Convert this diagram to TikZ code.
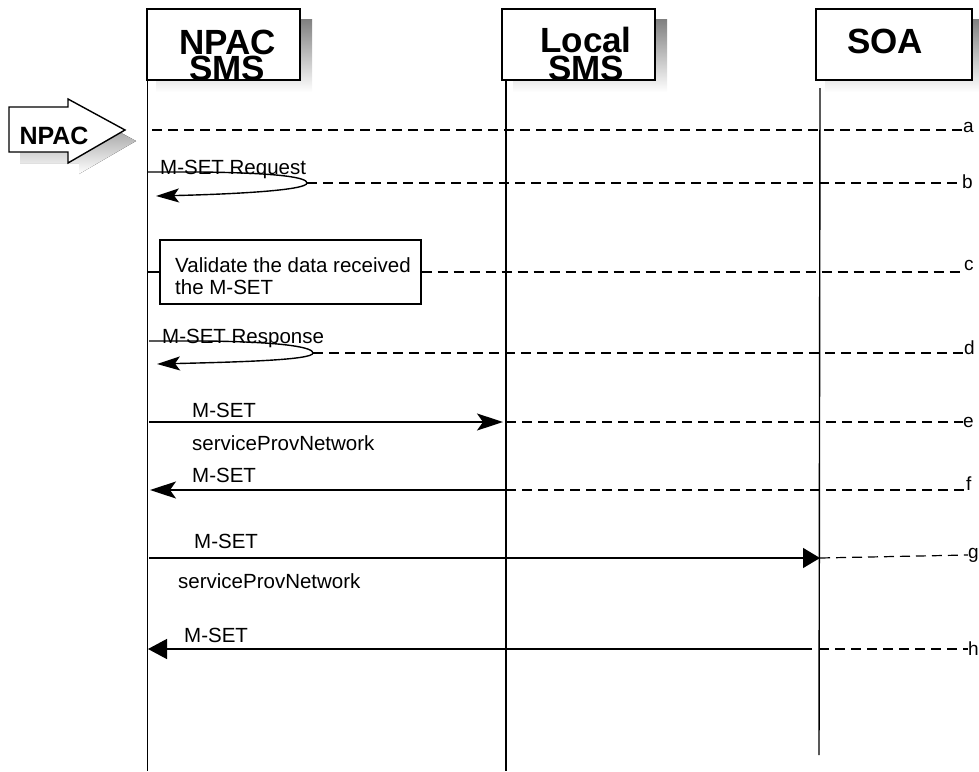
\documentclass[tikz,border=0pt]{standalone}
\usepackage{fontspec}
\setmainfont{Liberation Sans}
\usetikzlibrary{arrows.meta}
\definecolor{shade}{RGB}{118,118,118}
\begin{document}
\begin{tikzpicture}[x=1pt,y=-1pt,
  head/.style={draw,line width=1.4pt,fill=white,minimum width=153pt,minimum height=71pt,inner sep=0},
  hd/.style={font=\bfseries\fontsize{35}{25}\selectfont,inner sep=0,text height=23pt,text depth=0pt},
  life/.style={line width=1.4pt},
  dsh/.style={line width=1.2pt,dash pattern=on 10pt off 6pt},
  msg/.style={line width=1.4pt},
  lbl/.style={font=\fontsize{20.5}{22}\selectfont,inner sep=0},
  tag/.style={font=\fontsize{19}{20}\selectfont,inner sep=0,anchor=base west},
  bigstealth/.style={-{Stealth[length=26pt,width=17pt,inset=6pt]}},
  loopstealth/.style={-{Stealth[length=23pt,width=14pt,inset=5pt]}},
  tri/.style={-{Triangle[length=17pt,width=20pt]}},
  ]
\useasboundingbox (0,0) rectangle (979,771);
% header shadows
\fill[shade] (156,19) rectangle (312,92);
\fill[shade] (513,19) rectangle (667,92);
\fill[shade] (825,19) rectangle (979,92);
% header boxes
\node[head] (npac) at (223.5,44.5) {};
\node[head] (lsms) at (578.5,44.5) {};
\node[head,minimum width=156pt] (soa) at (894,44.5) {};
\node[hd,anchor=base] (npacT1) at (227.5,54) {NPAC};
\node[hd,anchor=base] (npacT2) at (227,80) {SMS};
\node[hd,anchor=base] (lsmsT1) at (586,52) {Local};
\node[hd,anchor=base] (lsmsT2) at (586,80) {SMS};
\node[hd,anchor=base] (soaT) at (885,53) {SOA};
% lifelines
\coordinate (npacTop) at (147.5,80);
\coordinate (npacBot) at (147.5,771);
\coordinate (lsmsTop) at (506,80);
\coordinate (lsmsBot) at (506,771);
\coordinate (soaTop) at (820,88);
\coordinate (soaBot) at (819,755);
\draw[life] (npacTop) -- (npacBot);
\draw[life] (lsmsTop) -- (lsmsBot);
\draw[life] (soaTop) -- (soaBot);
% NPAC block arrow
\fill[shade,shift={(11,11)}] (9,107) -- (68,107) -- (68,99) -- (125,130) -- (68,163) -- (68,152) -- (9,152) -- cycle;
\draw[line width=1.4pt,fill=white] (9,107) -- (68,107) -- (68,99) -- (125,130) -- (68,163) -- (68,152) -- (9,152) -- cycle;
\node[font=\bfseries\fontsize{25}{25}\selectfont,inner sep=0,anchor=base] (src) at (54,144) {NPAC};
% right tags
\node[tag] (tA) at (963,132) {a};
\node[tag] (tB) at (962,188) {b};
\node[tag] (tC) at (964,270) {c};
\node[tag] (tD) at (964,354) {d};
\node[tag] (tE) at (963,427) {e};
\node[tag] (tF) at (966,490) {f};
\node[tag] (tG) at (968,558) {g};
\node[tag] (tH) at (968,655) {h};
% a
\coordinate (aS) at (152,130);
\draw[dsh] (aS) -- (aS -| tA.west);
% b : M-SET Request loop
\coordinate (reqS) at (147.5,172);
\coordinate (reqM) at (307,183);
\coordinate (reqE) at (156,196);
\draw[msg,loopstealth] (reqS) -- (200,172) .. controls (285,173) and (307,178) .. (reqM) .. controls (307,190) and (240,194) .. (reqE);
\node[lbl,anchor=base west] (reqL) at (160,174) {M-SET Request};
\draw[dsh] (reqM) -- (reqM -| tB.west);
% c : validate
\node[draw,line width=1.4pt,minimum width=261pt,minimum height=64pt,inner sep=0] (val) at (290.5,272) {};
\node[lbl,anchor=north west,align=left] (valT) at (175,257) {Validate the data received\\the M-SET};
\draw[line width=1.2pt] (npacTop |- val.west) -- (val.west);
\draw[dsh] (val.east) -- (val.east -| tC.west);
% d : M-SET Response loop
\coordinate (rspS) at (149,341);
\coordinate (rspM) at (313,353);
\coordinate (rspE) at (157,364);
\draw[msg,loopstealth] (rspS) -- (205,341) .. controls (290,342) and (313,348) .. (rspM) .. controls (313,360) and (240,362) .. (rspE);
\node[lbl,anchor=base west] (rspL) at (162,343) {M-SET Response};
\draw[dsh] (rspM) -- (rspM -| tD.west);
% e
\coordinate (eS) at (149,422);
\coordinate (eE) at (503,422);
\draw[msg,bigstealth] (eS) -- (eE);
\node[lbl,anchor=base west] (eL1) at (192,417) {M-SET};
\node[lbl,anchor=base west] (eL2) at (192,450) {serviceProvNetwork};
\draw[dsh] (lsmsTop |- eE) -- (eE -| tE.west);
% f
\coordinate (fS) at (506,490);
\coordinate (fE) at (150,490);
\draw[msg,bigstealth] (fS) -- (fE);
\node[lbl,anchor=base west] (fL) at (192,482) {M-SET};
\draw[dsh] (fS) -- (fS -| tF.west);
% g
\coordinate (gS) at (149,558);
\coordinate (gE) at (820,558);
\draw[msg,tri] (gS) -- (gE);
\node[lbl,anchor=base west] (gL1) at (194,548) {M-SET};
\node[lbl,anchor=base west] (gL2) at (178,588) {serviceProvNetwork};
\draw[dsh] (gE) -- (tG.west |- 0,555);
% h
\coordinate (hS) at (812,649);
\coordinate (hE) at (148,649);
\draw[msg,-{Triangle[length=19pt,width=20pt]}] (hS) -- (hE);
\node[lbl,anchor=base west] (hL) at (184,642) {M-SET};
\draw[dsh] (soaBot |- hS) -- (hS -| tH.west);
\end{tikzpicture}
\end{document}
